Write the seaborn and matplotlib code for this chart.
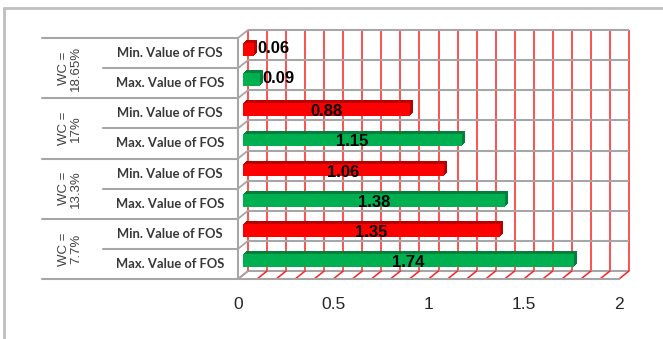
import numpy as np
import pandas as pd
import matplotlib
matplotlib.use('Agg')
import matplotlib.pyplot as plt
import matplotlib.transforms as mtransforms
from matplotlib.lines import Line2D
from matplotlib.patches import Rectangle
import seaborn as sns

# ---------------- data ----------------
groups = ['WC =\n18.65%', 'WC =\n17%', 'WC =\n13.3%', 'WC =\n7.7%']
series = ['Min. Value of FOS', 'Max. Value of FOS']
min_fos = [0.06, 0.88, 1.06, 1.35]
max_fos = [0.09, 1.15, 1.38, 1.74]
xticks = [0, 0.5, 1, 1.5, 2]
xtick_labels = ['0', '0.5', '1', '1.5', '2']
colors = {'Min. Value of FOS': '#FF0000', 'Max. Value of FOS': '#00B050'}
dark = {'#FF0000': '#B80000', '#00B050': '#00803A'}

rows = []
for g, mn, mx in zip(groups, min_fos, max_fos):
    rows.append({'group': g, 'series': series[0], 'row': g + '|' + series[0], 'value': mn})
    rows.append({'group': g, 'series': series[1], 'row': g + '|' + series[1], 'value': mx})
df = pd.DataFrame(rows)
n = len(df)

sns.set_style('white')
plt.rcParams['font.family'] = ['Liberation Sans', 'DejaVu Sans']

W, H = 663, 339
fig = plt.figure(figsize=(W / 100, H / 100), dpi=100)
ax = fig.add_axes([238 / W, (H - 279) / H, (619 - 238) / W, (279 - 38) / H])
ax.patch.set_alpha(0)

sns.barplot(data=df, x='value', y='row', hue='series', palette=colors, dodge=False,
            orient='h', width=0.42, saturation=1, legend=False, ax=ax, zorder=2,
            linewidth=0, edgecolor='none')
ax.set_xlim(0, 2)
ax.set_ylim(n - 0.5, -0.5)

px = lambda dx, dy: mtransforms.ScaledTranslation(dx / 100, dy / 100, fig.dpi_scale_trans)
back = ax.transData + px(10, 8)
bar_t = ax.transData + px(4.5, 3.5)

# back wall grid
grid_x = np.linspace(0, 2, 21)
bounds = np.arange(-0.5, n, 1.0)
ax.vlines(grid_x, -0.5, n - 0.5, colors='#FF2020', lw=1.1, transform=back, clip_on=False, zorder=0.5)
ax.hlines(bounds, 0, 2, colors='#A6A6A6', lw=1.5, transform=back, clip_on=False, zorder=0.6)

# floor and left wall diagonals (computed from data positions)
def diag(x, y, color, lw):
    p = ax.transData.transform((x, y)) / fig.dpi
    ax.add_line(Line2D([p[0], p[0] + 0.10], [p[1], p[1] + 0.08], color=color, lw=lw,
                       transform=fig.dpi_scale_trans, clip_on=False, zorder=0.7))

for x in grid_x:
    diag(x, n - 0.5, '#FF2020', 1.1)
for b in bounds:
    diag(0, b, '#A6A6A6', 1.3)
ax.plot([0, 0], [-0.5, n - 0.5], color='#A6A6A6', lw=1.5, clip_on=False, zorder=0.8)

# bars with slight 3D extrusion
bars = list(ax.patches)
for p in bars:
    p.set_transform(bar_t)
    p.set_linewidth(0)
    fc = matplotlib.colors.to_hex(p.get_facecolor()).upper()
    for k in (1, 2, 3):
        ext = Rectangle((p.get_x(), p.get_y()), p.get_width(), p.get_height(),
                        facecolor=dark.get(fc, '#555555'), edgecolor='none', linewidth=0,
                        transform=bar_t + px(k, k), zorder=1.9, clip_on=False)
        ax.add_patch(ext)
    p.set_clip_on(False)
    w = p.get_width()
    yc = p.get_y() + p.get_height() / 2
    if w < 0.3:
        ax.text(w, yc, f'{w:.2f}', ha='left', va='center', fontsize=12, fontweight='bold',
                color='black', transform=bar_t + px(3, 1), zorder=3)
    else:
        ax.text(w / 2, yc, f'{w:.2f}', ha='center', va='center', fontsize=12, fontweight='bold',
                color='black', transform=bar_t + px(0, -2), zorder=3)

# axes styling
for s in ['left', 'top', 'right']:
    ax.spines[s].set_visible(False)
ax.spines['bottom'].set_color('#A6A6A6')
ax.spines['bottom'].set_linewidth(1.5)
ax.set_yticks([])
ax.set_ylabel('')
ax.set_xlabel('')
ax.set_xticks(xticks, xtick_labels)
ax.tick_params(axis='x', length=4, width=1.2, color='#A6A6A6', pad=9, labelsize=12.5,
               labelcolor='#262626')

# left category panel
blend = mtransforms.blended_transform_factory(fig.transFigure, ax.transData)
for b in bounds:
    is_group = (int(round(b + 0.5)) % 2 == 0)
    x0 = 42 / W if is_group else 103 / W
    ax.plot([x0, 238 / W], [b, b], color='#A6A6A6', lw=1.5, transform=blend, clip_on=False)
for i, r in df.iterrows():
    ax.text(170 / W, i, r['series'], ha='center', va='center', fontsize=9.4,
            fontweight='bold', family=['Lato', 'DejaVu Sans'], color='#383838',
            transform=blend)
for gi, g in enumerate(groups):
    ax.text(70 / W, 2 * gi + 0.5, g, ha='center', va='center', rotation=90, fontsize=9.5,
            color='#404040', transform=blend, linespacing=1.0)

# outer frame
fig.add_artist(Line2D([4 / W, 4 / W], [0, (H - 8) / H], color='#BFBFBF', lw=2))
fig.add_artist(Line2D([4 / W, 1], [(H - 8) / H, (H - 8) / H], color='#BFBFBF', lw=2))

fig.savefig('out.png', dpi=100)
